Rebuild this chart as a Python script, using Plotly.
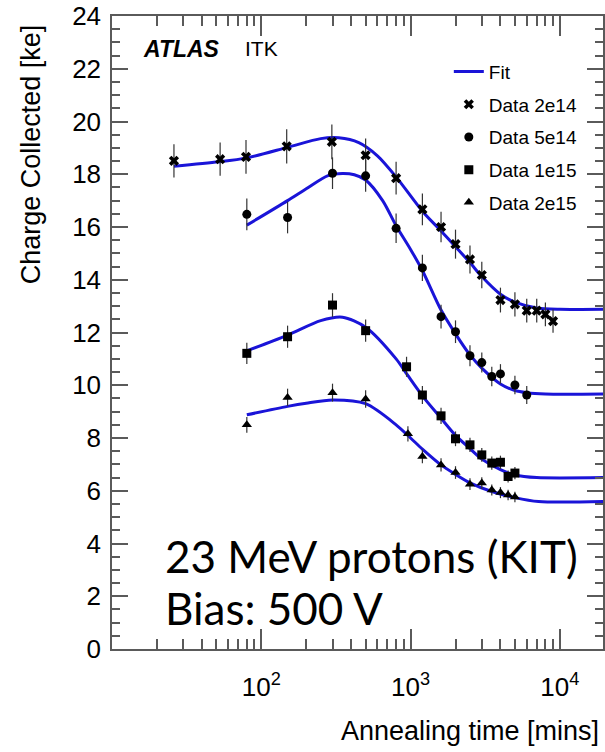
import plotly.graph_objects as go

# ---------------- data ----------------
t_2e14 = [26, 53, 79, 148, 297, 500, 800, 1200, 1600, 2000, 2500, 3000, 4000, 5000, 6000, 7000, 8000, 9000]
q_2e14 = [18.51, 18.57, 18.66, 19.06, 19.23, 18.72, 17.85, 16.67, 16.0, 15.35, 14.77, 14.18, 13.23, 13.07, 12.83, 12.83, 12.69, 12.43]
e_2e14 = [0.63, 0.63, 0.64, 0.65, 0.66, 0.64, 0.62, 0.6, 0.58, 0.55, 0.53, 0.5, 0.47, 0.46, 0.45, 0.45, 0.45, 0.44]

t_5e14 = [80, 150, 300, 500, 800, 1200, 1600, 2000, 2500, 3000, 3500, 4000, 5000, 6000]
q_5e14 = [16.48, 16.36, 18.04, 17.94, 15.95, 14.45, 12.6, 12.03, 11.12, 10.86, 10.33, 10.43, 10.01, 9.63]
e_5e14 = [0.6, 0.6, 0.6, 0.6, 0.56, 0.5, 0.45, 0.43, 0.4, 0.38, 0.37, 0.37, 0.35, 0.34]

t_1e15 = [80, 150, 300, 500, 940, 1200, 1600, 2000, 2500, 3000, 3500, 4000, 4500, 5000]
q_1e15 = [11.21, 11.84, 13.04, 12.07, 10.7, 9.63, 8.84, 7.97, 7.74, 7.36, 7.05, 7.08, 6.54, 6.67]
e_1e15 = [0.4, 0.42, 0.45, 0.42, 0.38, 0.34, 0.31, 0.28, 0.27, 0.26, 0.25, 0.25, 0.23, 0.23]

t_2e15 = [80, 150, 300, 500, 960, 1200, 1600, 2000, 2500, 3000, 3500, 4000, 4500, 5000]
q_2e15 = [8.5, 9.54, 9.72, 9.48, 8.16, 7.3, 6.98, 6.69, 6.25, 6.29, 6.03, 5.93, 5.84, 5.76]
e_2e15 = [0.3, 0.33, 0.34, 0.33, 0.29, 0.26, 0.25, 0.24, 0.22, 0.22, 0.21, 0.21, 0.2, 0.2]

# fit curves, read at several annealing times
ft_2e14 = [26, 52, 80, 150, 250, 330, 450, 600, 800, 1200, 1600, 2000, 2500, 3000, 4000, 5000, 7000, 10000, 19500]
fq_2e14 = [18.3, 18.47, 18.62, 19.02, 19.35, 19.38, 19.2, 18.7, 17.9, 16.6, 15.85, 15.25, 14.65, 14.12, 13.45, 13.15, 12.93, 12.88, 12.88]

ft_5e14 = [80, 150, 200, 280, 350, 420, 500, 650, 800, 1000, 1200, 1600, 2000, 2500, 3000, 4000, 5000, 6000, 8000, 19500]
fq_5e14 = [16.07, 17.0, 17.45, 17.95, 18.03, 17.98, 17.78, 17.0, 16.05, 15.15, 14.35, 12.85, 11.95, 11.15, 10.65, 10.05, 9.8, 9.72, 9.67, 9.67]

ft_1e15 = [80, 150, 250, 350, 500, 800, 950, 1200, 1600, 2000, 2500, 3000, 4000, 5000, 7000, 19500]
fq_1e15 = [11.3, 11.9, 12.45, 12.58, 12.2, 11.0, 10.4, 9.6, 8.75, 8.1, 7.6, 7.2, 6.8, 6.6, 6.5, 6.5]

ft_2e15 = [80, 150, 200, 300, 500, 800, 1000, 1200, 1600, 2000, 2500, 3500, 5000, 7200, 19500]
fq_2e15 = [8.88, 9.2, 9.32, 9.44, 9.3, 8.5, 8.0, 7.58, 6.98, 6.62, 6.3, 5.97, 5.74, 5.59, 5.59]

x_major = [100, 1000, 10000]
x_major_text = ["10<sup>2</sup>", "10<sup>3</sup>", "10<sup>4</sup>"]
x_minor = [20, 30, 40, 50, 60, 70, 80, 90, 200, 300, 400, 500, 600, 700, 800, 900,
           2000, 3000, 4000, 5000, 6000, 7000, 8000, 9000]

# ---------------- figure ----------------
FONT = "Liberation Sans, Arial, sans-serif"
BLUE = "#1a14d8"
AX = "#5a5a5a"

fig = go.Figure()

fits = [(ft_2e14, fq_2e14), (ft_5e14, fq_5e14), (ft_1e15, fq_1e15), (ft_2e15, fq_2e15)]
for i, (ft, fq) in enumerate(fits):
    fig.add_trace(go.Scatter(
        x=ft, y=fq, mode="lines", name="Fit",
        line=dict(color=BLUE, width=3, shape="spline", smoothing=0.8),
        showlegend=(i == 0), legendgroup="g0", legendrank=1,
    ))

series = [
    ("Data 2e14", t_2e14, q_2e14, e_2e14, "x", 9),
    ("Data 5e14", t_5e14, q_5e14, e_5e14, "circle", 9),
    ("Data 1e15", t_1e15, q_1e15, e_1e15, "square", 9),
    ("Data 2e15", t_2e15, q_2e15, e_2e15, "triangle-up", 9),
]
for k, (nm, t, q, e, sym, sz) in enumerate(series):
    fig.add_trace(go.Scatter(
        x=t, y=q, mode="markers", name=nm,
        marker=dict(symbol=sym, size=sz, color="black", line=dict(width=0)),
        error_y=dict(type="data", array=e, visible=True, color="#333333", thickness=1.2, width=0),
        legendgroup="g%d" % (k + 1), legendrank=k + 2,
    ))

fig.update_layout(
    width=605, height=752,
    margin=dict(l=112, r=0, t=16, b=103),
    paper_bgcolor="white", plot_bgcolor="white",
    font=dict(family=FONT, color="black", size=26),
    showlegend=True,
    legend=dict(x=0.686, y=0.942, xanchor="left", yanchor="top",
                bgcolor="rgba(0,0,0,0)", font=dict(size=19, family=FONT),
                tracegroupgap=5, itemwidth=30),
    xaxis=dict(type="log", range=[1, 4.289], showgrid=False, zeroline=False,
               showline=True, linecolor=AX, linewidth=1.5, mirror="ticks",
               ticks="inside", ticklen=20, tickwidth=1.5, tickcolor=AX,
               tickmode="array", tickvals=x_major, ticktext=x_major_text,
               tickfont=dict(size=26), ticklabelstandoff=14,
               minor=dict(ticks="inside", ticklen=10, tickwidth=1.5, tickcolor=AX,
                          tickmode="array", tickvals=x_minor, showgrid=False)),
    yaxis=dict(range=[0, 24], showgrid=False, zeroline=False,
               showline=True, linecolor=AX, linewidth=1.5, mirror="ticks",
               ticks="inside", ticklen=16, tickwidth=1.5, tickcolor=AX,
               dtick=2, tick0=0, tickfont=dict(size=26), ticklabelstandoff=4,
               minor=dict(ticks="inside", ticklen=8, tickwidth=1.5, tickcolor=AX,
                          dtick=0.5, showgrid=False)),
)

ann = [
    dict(text="Charge Collected [ke]", x=31, y=22, textangle=-90, xanchor="center", yanchor="top",
         font=dict(size=27, family=FONT)),
    dict(text="Annealing time [mins]", x=603, y=748, xanchor="right", yanchor="bottom",
         font=dict(size=27, family=FONT)),
    dict(text="<b><i>ATLAS</i></b>", x=141, y=49, xanchor="left", yanchor="middle",
         font=dict(size=23, family=FONT)),
    dict(text="ITK", x=244, y=49, xanchor="left", yanchor="middle",
         font=dict(size=21, family=FONT)),
    dict(text="23 MeV protons (KIT)", x=163, y=556, xanchor="left", yanchor="middle",
         font=dict(size=44, family="Lato, Open Sans, sans-serif")),
    dict(text="Bias: 500 V", x=163, y=608, xanchor="left", yanchor="middle",
         font=dict(size=44, family="Lato, Open Sans, sans-serif")),
]
for a in ann:
    px, py = a.pop("x"), a.pop("y")
    fig.add_annotation(xref="paper", yref="paper", showarrow=False,
                       x=(px - 112) / (605 - 112), y=(649 - py) / (649 - 16), **a)

fig.write_html("out.html")
